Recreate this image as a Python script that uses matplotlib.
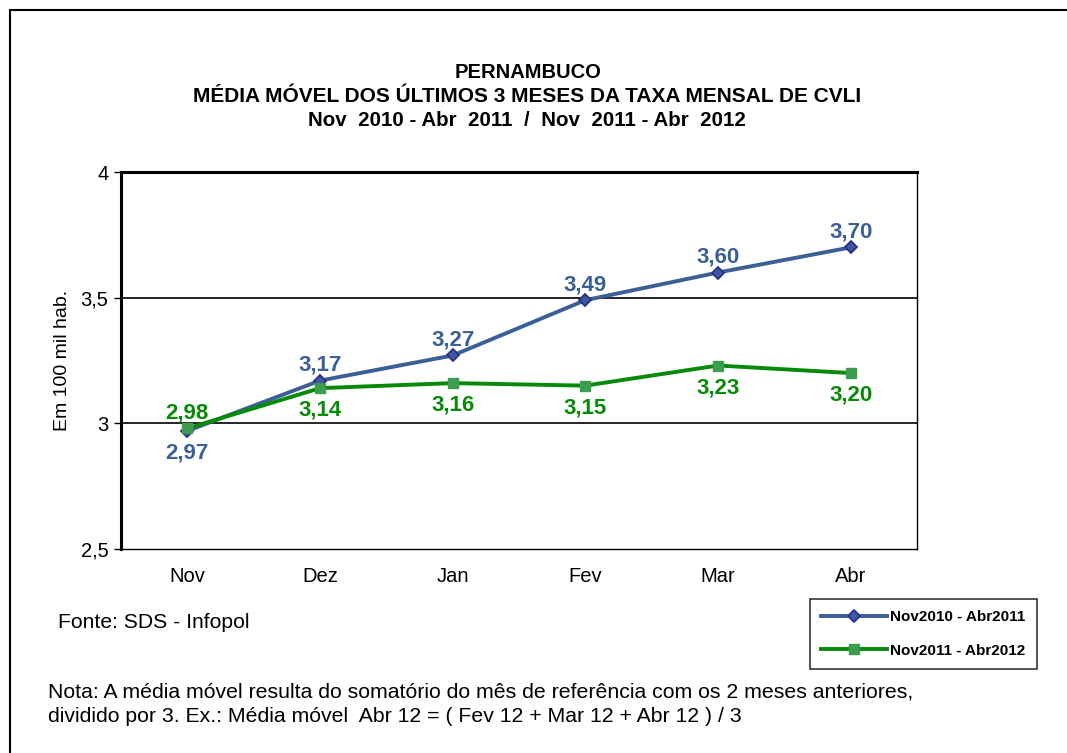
import numpy as np
import matplotlib.pyplot as plt
from matplotlib.patches import Rectangle

plt.rcParams['font.family'] = ['Liberation Sans', 'DejaVu Sans']

months = ['Nov', 'Dez', 'Jan', 'Fev', 'Mar', 'Abr']
serie_2011 = [2.97, 3.17, 3.27, 3.49, 3.60, 3.70]
serie_2012 = [2.98, 3.14, 3.16, 3.15, 3.23, 3.20]
label_2011 = 'Nov2010 - Abr2011'
label_2012 = 'Nov2011 - Abr2012'

W, H = 1067, 753
fig = plt.figure(figsize=(W / 100, H / 100), dpi=100)

# outer frame
fig.patches.append(Rectangle((10 / W, -0.01), 1.02, (H - 10) / H + 0.01,
                             transform=fig.transFigure, fill=False,
                             edgecolor='black', linewidth=1.5))

ax = fig.add_axes([121 / W, 1 - 549 / H, (917 - 121) / W, (549 - 172) / H])
x = np.arange(len(months))

blue = '#3B5F97'
green = '#078A07'
ax.plot(x, serie_2011, color=blue, linewidth=2.8, marker='D', markersize=6.5,
        markerfacecolor='#3B5AA0', markeredgecolor='#2B2F8A', markeredgewidth=1.3,
        label=label_2011, zorder=3)
ax.plot(x, serie_2012, color=green, linewidth=2.8, marker='s', markersize=7,
        markerfacecolor='#3C9C50', markeredgecolor='#3C9C50', label=label_2012, zorder=4)

for i, (a, b) in enumerate(zip(serie_2011, serie_2012)):
    up_a = i > 0
    ax.annotate(f'{a:.2f}'.replace('.', ','), (i, a), xytext=(0, 11 if up_a else -16),
                textcoords='offset points', ha='center', va='center',
                fontsize=16, fontweight='bold', color=blue)
    ax.annotate(f'{b:.2f}'.replace('.', ','), (i, b), xytext=(0, 11 if not up_a else -16),
                textcoords='offset points', ha='center', va='center',
                fontsize=16, fontweight='bold', color=green)

ax.set_xlim(-0.5, 5.5)
ax.set_ylim(2.5, 4)
ax.set_yticks([2.5, 3, 3.5, 4])
ax.set_yticklabels(['2,5', '3', '3,5', '4'])
ax.set_xticks(x)
ax.set_xticklabels(months)
ax.tick_params(axis='y', labelsize=14.5, direction='out', length=5, width=1, pad=4)
ax.tick_params(axis='x', labelsize=14.5, length=0, pad=13)
for yv in [3, 3.5]:
    ax.axhline(yv, color='black', linewidth=1.2, zorder=1)
ax.spines['left'].set_linewidth(2.2)
ax.spines['top'].set_linewidth(2.2)
ax.spines['right'].set_linewidth(1)
ax.spines['bottom'].set_linewidth(1)
ax.set_ylabel('Em 100 mil hab.', fontsize=14, labelpad=7)

fig.text(528 / W, 1 - 72 / H, 'PERNAMBUCO', ha='center', va='center',
         fontsize=14.5, fontweight='bold')
fig.text(527 / W, 1 - 96 / H, 'MÉDIA MÓVEL DOS ÚLTIMOS 3 MESES DA TAXA MENSAL DE CVLI',
         ha='center', va='center', fontsize=15, fontweight='bold')
fig.text(527 / W, 1 - 121 / H, 'Nov  2010 - Abr  2011  /  Nov  2011 - Abr  2012',
         ha='center', va='center', fontsize=14.8, fontweight='bold')

fig.text(58 / W, 1 - 622 / H, 'Fonte: SDS - Infopol', ha='left', va='center', fontsize=15.2)
fig.text(48 / W, 1 - 692 / H,
         'Nota: A média móvel resulta do somatório do mês de referência com os 2 meses anteriores,',
         ha='left', va='center', fontsize=15.3)
fig.text(48 / W, 1 - 716 / H,
         'dividido por 3. Ex.: Média móvel  Abr 12 = ( Fev 12 + Mar 12 + Abr 12 ) / 3',
         ha='left', va='center', fontsize=15.3)

leg = fig.legend(loc='upper left', bbox_to_anchor=(810 / W, 1 - 599 / H),
                 frameon=True, fancybox=False, edgecolor='black',
                 prop={'weight': 'bold', 'size': 11}, handlelength=4.3,
                 labelspacing=1.25, borderpad=0.75, handletextpad=0.2,
                 borderaxespad=0)
leg.get_frame().set_linewidth(1.2)

fig.savefig('out.png', dpi=100)
